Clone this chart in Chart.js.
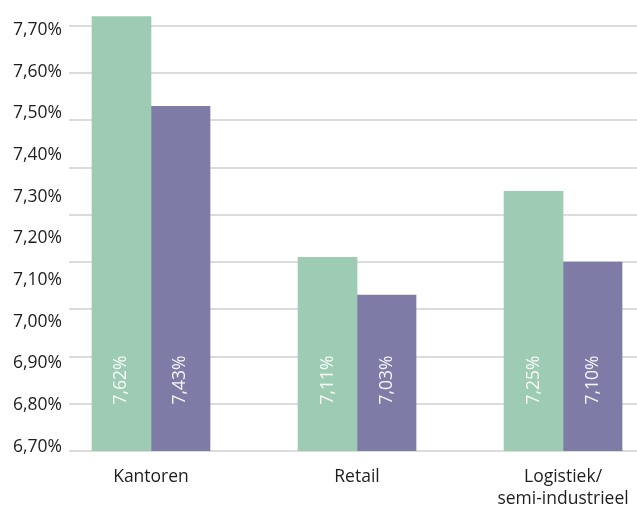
<!DOCTYPE html>
<html>
<head>
<meta charset="utf-8">
<script src="https://cdn.jsdelivr.net/npm/chart.js@4.4.1/dist/chart.umd.min.js"></script>
<style>
  html, body { margin: 0; padding: 0; background: #fff; }
</style>
</head>
<body>
<canvas id="myChart" width="637" height="505"></canvas>
<script>
// categories and series
var categories = ['Kantoren', 'Retail', ['Logistiek/', 'semi-industrieel']];
var seriesA = [7.62, 7.11, 7.25];   // green bars
var seriesB = [7.43, 7.03, 7.10];   // purple bars

// grid lines (bar scale) and the printed tick labels (own spacing in the original)
var gridTicks = [6.70, 6.80, 6.90, 7.00, 7.10, 7.20, 7.30, 7.40, 7.50, 7.60];
var labelTicks = [6.70, 6.80, 6.90, 7.00, 7.10, 7.20, 7.30, 7.40, 7.50, 7.60, 7.70];

var FONT = 'Open Sans';
var FONT_SIZE = 17.5;
var GREEN = '#9ecbb4';
var PURPLE = '#7f7ba7';

function pct(v) {
  return v.toFixed(2).replace('.', ',') + '%';
}

function noPadding(s) {
  s.paddingTop = 0;
  s.paddingBottom = 0;
  s.paddingLeft = 0;
  s.paddingRight = 0;
}

// white rotated value labels inside the bars
var valueLabels = {
  id: 'valueLabels',
  afterDatasetsDraw: function (chart) {
    var ctx = chart.ctx;
    var yPos = chart.chartArea.bottom - 71;
    chart.data.datasets.forEach(function (ds, di) {
      chart.getDatasetMeta(di).data.forEach(function (bar, i) {
        ctx.save();
        ctx.translate(bar.x, yPos);
        ctx.rotate(-Math.PI / 2);
        ctx.fillStyle = 'rgba(255,255,255,0.92)';
        ctx.font = FONT_SIZE + 'px "' + FONT + '"';
        ctx.textAlign = 'center';
        ctx.textBaseline = 'middle';
        ctx.fillText(pct(ds.data[i]), 0, 0);
        ctx.restore();
      });
    });
  }
};

var ctx = document.getElementById('myChart').getContext('2d');
var myChart = new Chart(ctx, {
  type: 'bar',
  data: {
    labels: categories.map(function (c, i) { return i; }),
    datasets: [
      { data: seriesA, backgroundColor: GREEN, borderWidth: 0, barThickness: 59, yAxisID: 'y' },
      { data: seriesB, backgroundColor: PURPLE, borderWidth: 0, barThickness: 59, yAxisID: 'y' }
    ]
  },
  options: {
    responsive: false,
    devicePixelRatio: 1,
    animation: false,
    layout: { padding: { top: 10, left: 0, right: 0, bottom: 0 } },
    plugins: {
      legend: { display: false },
      tooltip: { enabled: false }
    },
    scales: {
      x: {
        type: 'linear',
        offset: false,
        min: -0.398,
        max: 2.359,
        grid: { display: false, drawTicks: false },
        border: { display: false },
        ticks: {
          padding: 15,
          maxRotation: 0,
          autoSkip: false,
          color: '#1e1e1e',
          font: { family: FONT, size: FONT_SIZE, lineHeight: 1.25 },
          callback: function (v) { return categories[v]; }
        },
        afterBuildTicks: function (s) {
          s.ticks = categories.map(function (c, i) { return { value: i }; });
        },
        afterFit: function (s) { s.height = 54; noPadding(s); }
      },
      y: {
        type: 'linear',
        position: 'left',
        min: 6.70,
        max: 7.634,
        grid: { color: '#dcdcdc', lineWidth: 2, drawTicks: false },
        border: { display: false },
        ticks: { display: false },
        afterBuildTicks: function (s) {
          s.ticks = gridTicks.map(function (v) { return { value: v }; });
        },
        afterFit: function (s) { s.width = 0; noPadding(s); }
      },
      yl: {
        type: 'linear',
        position: 'left',
        min: 6.69,
        max: 7.7483,
        grid: { display: false, drawTicks: false },
        border: { display: false },
        ticks: {
          padding: 7,
          color: '#1e1e1e',
          font: { family: FONT, size: FONT_SIZE },
          callback: function (v) { return pct(v); }
        },
        afterBuildTicks: function (s) {
          s.ticks = labelTicks.map(function (v) { return { value: v }; });
        },
        afterFit: function (s) { s.width = 69; noPadding(s); }
      }
    }
  },
  plugins: [valueLabels]
});
</script>
</body>
</html>
